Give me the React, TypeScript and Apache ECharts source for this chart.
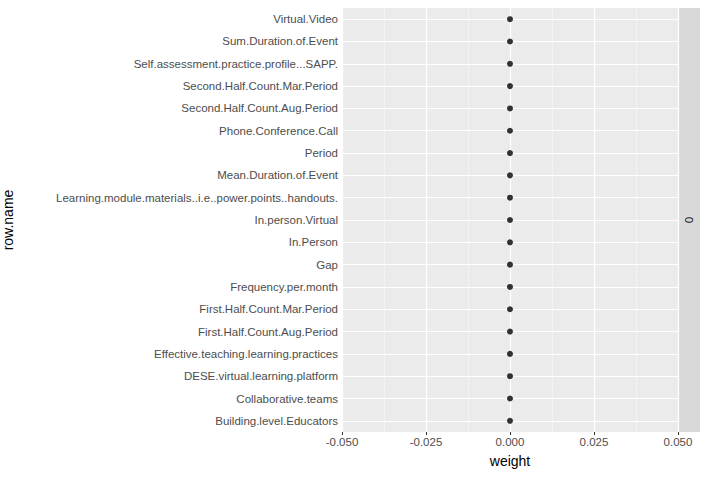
import * as echarts from "echarts";
import { useEffect, useRef } from "react";

const rowNames = [
  "Building.level.Educators",
  "Collaborative.teams",
  "DESE.virtual.learning.platform",
  "Effective.teaching.learning.practices",
  "First.Half.Count.Aug.Period",
  "First.Half.Count.Mar.Period",
  "Frequency.per.month",
  "Gap",
  "In.Person",
  "In.person.Virtual",
  "Learning.module.materials..i.e..power.points..handouts.",
  "Mean.Duration.of.Event",
  "Period",
  "Phone.Conference.Call",
  "Second.Half.Count.Aug.Period",
  "Second.Half.Count.Mar.Period",
  "Self.assessment.practice.profile...SAPP.",
  "Sum.Duration.of.Event",
  "Virtual.Video",
];
const weights = rowNames.map(() => 0);
const xTicks = [-0.05, -0.025, 0, 0.025, 0.05];

export default function App() {
  const ref = useRef<HTMLDivElement>(null);

  useEffect(() => {
    if (!ref.current) return;
    const chart = echarts.init(ref.current, undefined, { renderer: "svg" });
    const font = "Liberation Sans, Arial, sans-serif";
    chart.setOption({
      animation: false,
      textStyle: { fontFamily: font },
      grid: { left: 340, right: 31, top: 8, bottom: 46, backgroundColor: "#ebebeb", show: true, borderWidth: 0 },
      xAxis: {
        type: "value",
        min: -0.05,
        max: 0.05,
        interval: 0.025,
        name: "weight",
        nameLocation: "middle",
        nameGap: 22,
        nameTextStyle: { color: "#000", fontSize: 14 },
        axisLine: { show: false },
        axisTick: { show: true, length: 3, lineStyle: { color: "#333" } },
        axisLabel: {
          color: "#4d4d4d",
          fontSize: 11.5,
          margin: 4,
          formatter: (v: number) => (xTicks.some((t) => Math.abs(t - v) < 1e-9) ? v.toFixed(3) : ""),
        },
        splitLine: { lineStyle: { color: "#fff", width: 1.2 } },
        minorTick: { show: false, splitNumber: 2 },
        minorSplitLine: { show: true, lineStyle: { color: "#f5f5f5", width: 0.8 } },
      },
      yAxis: {
        type: "category",
        data: rowNames,
        name: "row.name",
        nameLocation: "middle",
        nameGap: 327,
        nameRotate: 90,
        nameTextStyle: { color: "#000", fontSize: 14 },
        axisLine: { show: false },
        axisTick: { show: true, alignWithLabel: true, length: 3, lineStyle: { color: "#333" } },
        axisLabel: { color: "#4d4d4d", fontSize: 11.5, margin: 4 },
        splitLine: { show: false },
      },
      series: [
        {
          type: "scatter",
          data: weights.map((w, i) => [w, rowNames[i]]),
          symbolSize: 6,
          itemStyle: { color: "#000" },
          z: 5,
          markLine: {
            silent: true,
            symbol: "none",
            label: { show: false },
            lineStyle: { color: "#fff", width: 1.2, type: "solid" },
            data: rowNames.map((n) => ({ yAxis: n })),
            z: 1,
          },
        },
      ],
      graphic: [
        { type: "rect", shape: { x: 678, y: 8, width: 22, height: 424 }, style: { fill: "#d9d9d9" } },
        {
          type: "text",
          x: 689,
          y: 220,
          rotation: -Math.PI / 2,
          style: { text: "0", fill: "#1a1a1a", fontSize: 11.5, fontFamily: font, align: "center", verticalAlign: "middle" },
        },
      ],
    });
    return () => chart.dispose();
  }, []);

  return <div ref={ref} style={{ position: "absolute", left: 0, top: 0, width: 709, height: 478 }} />;
}
